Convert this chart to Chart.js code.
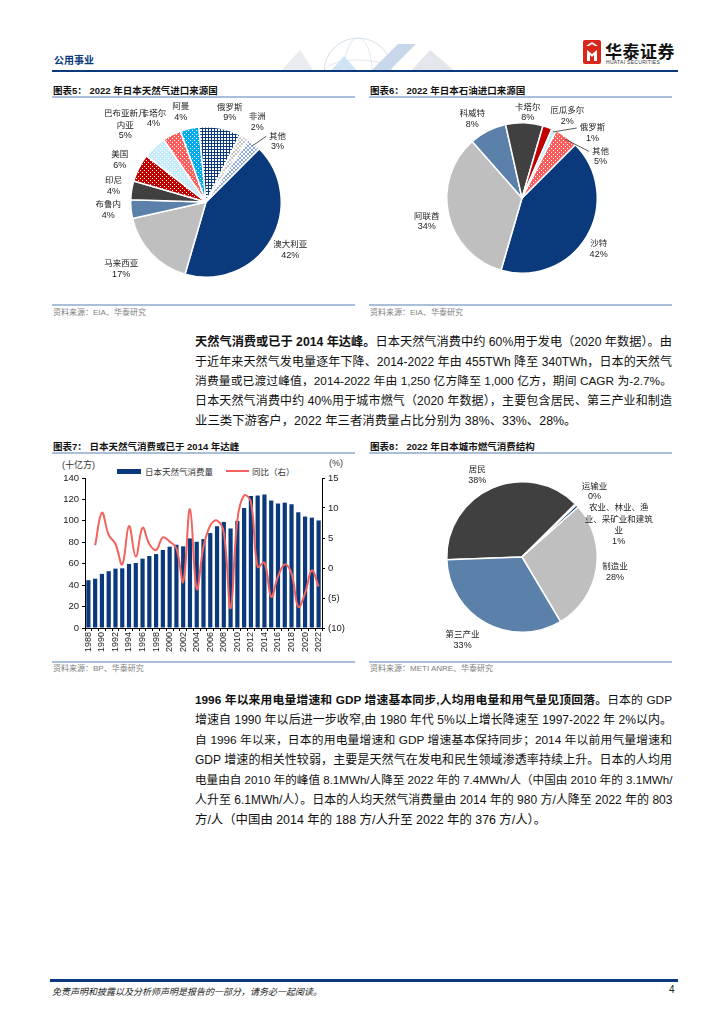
<!DOCTYPE html>
<html lang="zh">
<head>
<meta charset="utf-8">
<title>公用事业</title>
<script src="https://cdn.jsdelivr.net/npm/chart.js@4.4.0/dist/chart.umd.min.js"></script>
<style>
  html, body { margin: 0; padding: 0; background: #fff; }
  #page {
    position: relative; width: 724px; height: 1024px; overflow: hidden;
    font-family: "Liberation Sans", "Noto Sans CJK SC", sans-serif; color: #111;
  }
  .abs { position: absolute; }
  .ttl { font-size: 9.5px; font-weight: bold; white-space: nowrap; line-height: 12px; }
  .rule { height: 1.5px; background: #a9bfdc; }
  .src { font-size: 8px; color: #808080; white-space: nowrap; line-height: 10px; }
  .ln {
    position: absolute; left: 195px; width: 477px; height: 20px; line-height: 20px;
    font-size: 12.4px; white-space: nowrap; text-align: justify; text-align-last: justify;
  }
  .ln.last { text-align-last: left; }
  .ln b { font-weight: bold; }
  .unit { font-size: 9px; color: #333; white-space: nowrap; }
  .leg { font-size: 8.5px; color: #333; white-space: nowrap; }
</style>
</head>
<body>
<div id="page">

  <!-- header -->
  <div class="abs" style="left:54px;top:52px;font-size:10px;font-weight:bold;color:#0b3a7c;">公用事业</div>
  <svg class="abs" style="left:270px;top:34px" width="210" height="38">
    <circle cx="88" cy="38" r="34" fill="none" stroke="#d6dfea" stroke-width="1"/>
    <ellipse cx="88" cy="38" rx="34" ry="12" fill="none" stroke="#e1e8f0" stroke-width="1"/>
    <ellipse cx="88" cy="38" rx="14" ry="34" fill="none" stroke="#e1e8f0" stroke-width="1"/>
    <polygon points="10,38 30,16 44,38" fill="#e9edf2"/>
    <polygon points="100,38 128,10 146,10 118,38" fill="#c9d7ea"/>
    <polygon points="140,38 160,16 186,38" fill="#e3e7ec"/>
    <polygon points="60,38 74,22 88,38" fill="#cfe3f5"/>
  </svg>
  <div class="abs" style="left:583px;top:40px;width:18px;height:24px;background:#d9261c;border-radius:2px;"></div>
  <svg class="abs" style="left:583px;top:40px" width="18" height="24">
    <path d="M3 6 L9 2 L15 6 L12 6 L9 4 L6 6 Z" fill="#fff"/>
    <path d="M4 10 L9 14 L14 10 L14 21 L11 21 L11 15 L9 17 L7 15 L7 21 L4 21 Z" fill="#fff"/>
  </svg>
  <div class="abs" style="left:605px;top:38px;font-size:17px;font-weight:bold;letter-spacing:0.5px;color:#111;white-space:nowrap;">华泰证券</div>
  <div class="abs" style="left:606px;top:59px;font-size:5px;color:#333;letter-spacing:0.3px;white-space:nowrap;">HUATAI SECURITIES</div>
  <div class="abs" style="left:52px;top:70px;width:626px;height:2px;background:#0b3a7c;"></div>

  <!-- chart 5 -->
  <div class="abs ttl" style="left:53px;top:85px;">图表5：&nbsp;2022 年日本天然气进口来源国</div>
  <div class="abs rule" style="left:52px;top:96px;width:303px;"></div>
  <canvas id="lngChart" class="abs" style="left:52px;top:98px;" width="303" height="204"></canvas>
  <div class="abs rule" style="left:52px;top:304px;width:303px;"></div>
  <div class="abs src" style="left:53px;top:308px;">资料来源：EIA、华泰研究</div>

  <!-- chart 6 -->
  <div class="abs ttl" style="left:370px;top:85px;">图表6：&nbsp;2022 年日本石油进口来源国</div>
  <div class="abs rule" style="left:369px;top:96px;width:303px;"></div>
  <canvas id="oilChart" class="abs" style="left:369px;top:98px;" width="303" height="204"></canvas>
  <div class="abs rule" style="left:369px;top:304px;width:303px;"></div>
  <div class="abs src" style="left:370px;top:308px;">资料来源：EIA、华泰研究</div>

  <!-- paragraph 1 -->
  <div class="ln" style="top:332px;"><b>天然气消费或已于 2014 年达峰。</b>日本天然气消费中约 60%用于发电（2020 年数据）。由</div>
  <div class="ln" style="top:352px;">于近年来天然气发电量逐年下降、2014-2022 年由 455TWh 降至 340TWh，日本的天然气</div>
  <div class="ln" style="top:371px;">消费量或已渡过峰值，2014-2022 年由 1,250 亿方降至 1,000 亿方，期间 CAGR 为-2.7%。</div>
  <div class="ln" style="top:391px;">日本天然气消费中约 40%用于城市燃气（2020 年数据），主要包含居民、第三产业和制造</div>
  <div class="ln last" style="top:411px;">业三类下游客户，2022 年三者消费量占比分别为 38%、33%、28%。</div>

  <!-- chart 7 -->
  <div class="abs ttl" style="left:53px;top:441px;">图表7：&nbsp;日本天然气消费或已于 2014 年达峰</div>
  <div class="abs rule" style="left:52px;top:452px;width:303px;"></div>
  <div class="abs unit" style="left:62px;top:458px;">(十亿方)</div>
  <div class="abs unit" style="left:329px;top:458px;">(%)</div>
  <div class="abs" style="left:117px;top:469px;width:24px;height:5px;background:#0b3a7c;"></div>
  <div class="abs leg" style="left:145px;top:465px;">日本天然气消费量</div>
  <div class="abs" style="left:226px;top:470px;width:23px;height:2px;background:#f4625f;"></div>
  <div class="abs leg" style="left:252px;top:465px;">同比（右）</div>
  <canvas id="consumptionChart" class="abs" style="left:52px;top:455px;" width="303" height="205"></canvas>
  <div class="abs rule" style="left:52px;top:661px;width:303px;"></div>
  <div class="abs src" style="left:53px;top:664px;">资料来源：BP、华泰研究</div>

  <!-- chart 8 -->
  <div class="abs ttl" style="left:370px;top:441px;">图表8：&nbsp;2022 年日本城市燃气消费结构</div>
  <div class="abs rule" style="left:369px;top:452px;width:303px;"></div>
  <canvas id="cityGasChart" class="abs" style="left:369px;top:455px;" width="303" height="200"></canvas>
  <div class="abs rule" style="left:369px;top:661px;width:303px;"></div>
  <div class="abs src" style="left:370px;top:664px;">资料来源：METI ANRE、华泰研究</div>

  <!-- paragraph 2 -->
  <div class="ln" style="top:690px;"><b>1996 年以来用电量增速和 GDP 增速基本同步,人均用电量和用气量见顶回落。</b>日本的 GDP</div>
  <div class="ln" style="top:710px;">增速自 1990 年以后进一步收窄,由 1980 年代 5%以上增长降速至 1997-2022 年 2%以内。</div>
  <div class="ln" style="top:730px;">自 1996 年以来，日本的用电量增速和 GDP 增速基本保持同步；2014 年以前用气量增速和</div>
  <div class="ln" style="top:750px;">GDP 增速的相关性较弱，主要是天然气在发电和民生领域渗透率持续上升。日本的人均用</div>
  <div class="ln" style="top:770px;">电量由自 2010 年的峰值 8.1MWh/人降至 2022 年的 7.4MWh/人（中国由 2010 年的 3.1MWh/</div>
  <div class="ln" style="top:790px;">人升至 6.1MWh/人）。日本的人均天然气消费量由 2014 年的 980 方/人降至 2022 年的 803</div>
  <div class="ln last" style="top:810px;">方/人（中国由 2014 年的 188 方/人升至 2022 年的 376 方/人）。</div>

  <!-- footer -->
  <div class="abs" style="left:50px;top:979px;width:628px;height:2.5px;background:#0b3a7c;"></div>
  <div class="abs" style="left:52px;top:985px;font-size:9px;font-style:italic;color:#222;white-space:nowrap;">免责声明和披露以及分析师声明是报告的一部分，请务必一起阅读。</div>
  <div class="abs" style="left:669px;top:984px;font-size:10px;color:#222;">4</div>
</div>

<script>
// 图表5: 日本天然气进口来源国 (%)
const lngLabels = ["澳大利亚", "马来西亚", "布鲁内", "印尼", "美国", "巴布亚新几内亚", "卡塔尔", "阿曼", "俄罗斯", "非洲", "其他"];
const lngShares = [42, 17, 4, 4, 6, 5, 4, 4, 9, 2, 3];

// 图表6: 日本石油进口来源国 (%)
const oilLabels = ["沙特", "阿联酋", "科威特", "卡塔尔", "厄瓜多尔", "俄罗斯", "其他"];
const oilShares = [42, 34, 8, 8, 2, 1, 5];

// 图表7: 日本天然气消费量 (十亿方) 与同比 (%)
const years = ["1988", "1989", "1990", "1991", "1992", "1993", "1994", "1995", "1996", "1997",
  "1998", "1999", "2000", "2001", "2002", "2003", "2004", "2005", "2006", "2007",
  "2008", "2009", "2010", "2011", "2012", "2013", "2014", "2015", "2016", "2017",
  "2018", "2019", "2020", "2021", "2022"];
const consumption = [44.6, 46, 50.5, 53, 55.4, 55.7, 59.8, 60.7, 64.7, 67.2,
  69, 72.8, 75.9, 77.7, 76.2, 83.6, 80.5, 83, 88.6, 95,
  99, 92.9, 100, 112, 123.3, 123.6, 124.5, 119, 116.2, 117,
  115.5, 108, 104, 103, 100.4];
const yoy = [null, 3.8, 9.2, 5.5, 4, 0.6, 7, 1.9, 6.7, 4,
  3, 5.1, 4.4, 3.3, -2.3, 9.8, -3.5, 3.5, 7.1, 7.9,
  5.9, -6.7, 8, 12.1, 11, 0.2, 0.9, -4.8, -1.4, 0.6,
  -0.9, -6.5, -4.2, -0.4, -3.1];
const leftTicks = [0, 20, 40, 60, 80, 100, 120, 140];
const rightTicks = [-10, -5, 0, 5, 10, 15];

// 图表8: 日本城市燃气消费结构 (%)
const cityGasLabels = ["居民", "运输业", "农业、林业、渔业、采矿业和建筑业", "制造业", "第三产业"];
const cityGasShares = [38.1, 0.3, 0.6, 28, 33];

document.addEventListener("DOMContentLoaded", function () {
  const NAVY = "#0b3a7c";
  const GREY = "#bfbfbf";
  const STEEL = "#5b80aa";
  const DARK = "#404040";
  const RED = "#c00000";
  const LIGHT_BLUE = "#c9ecfb";
  const SALMON = "#ff5e5e";
  const CYAN = "#00aef0";
  const CJK = "'Noto Sans CJK SC', sans-serif";
  const LATIN = "'Liberation Sans', 'Noto Sans CJK SC', sans-serif";

  // small tiled fills for the hatched / dotted slices
  function makePattern(kind, bg, fg) {
    const tile = document.createElement("canvas");
    const size = kind === "grid" ? 3 : 4;
    tile.width = size;
    tile.height = size;
    const c = tile.getContext("2d");
    c.fillStyle = bg;
    c.fillRect(0, 0, size, size);
    c.fillStyle = fg;
    if (kind === "grid") {
      c.fillRect(0, 0, size, 1);
      c.fillRect(0, 0, 1, size);
    } else if (kind === "diag") {
      for (let i = 0; i < size; i++) {
        c.fillRect(i, i, 1, 1);
        c.fillRect(size - 1 - i, i, 1, 1);
      }
    } else {
      c.fillRect(0, 0, 1, 1);
      c.fillRect(2, 2, 1, 1);
    }
    return document.createElement("canvas").getContext("2d").createPattern(tile, "repeat");
  }

  // label placement per slice: [angle shift in degrees, distance from centre, leader line]
  function pieLabelPlugin(id, lines, place) {
    return {
      id: id,
      afterDatasetsDraw(chart) {
        const ctx = chart.ctx;
        const meta = chart.getDatasetMeta(0);
        const values = chart.data.datasets[0].data;
        ctx.save();
        meta.data.forEach((arc, i) => {
          const p = arc.getProps(["x", "y", "startAngle", "endAngle", "outerRadius"], true);
          const shift = place[i][0] * Math.PI / 180;
          const a = (p.startAngle + p.endAngle) / 2 + shift;
          const lx = p.x + place[i][1] * Math.cos(a);
          const ly = p.y + place[i][1] * Math.sin(a);
          const rows = lines[i].concat([Math.round(values[i]) + "%"]);
          const lh = 11.5;
          let y = ly - (rows.length - 1) * lh / 2;
          ctx.fillStyle = "#222";
          ctx.textAlign = "center";
          ctx.textBaseline = "middle";
          rows.forEach((row, k) => {
            ctx.font = k === rows.length - 1 ? "9px " + LATIN : "8.5px " + CJK;
            ctx.fillText(row, lx, y + k * lh);
          });
          if (place[i][2]) {
            const mid = (p.startAngle + p.endAngle) / 2;
            ctx.font = "8.5px " + CJK;
            const w = ctx.measureText(rows[0]).width;
            const firstY = ly - (rows.length - 1) * lh / 2;
            ctx.strokeStyle = "#333";
            ctx.lineWidth = 0.8;
            ctx.beginPath();
            ctx.moveTo(p.x + p.outerRadius * 0.97 * Math.cos(mid), p.y + p.outerRadius * 0.97 * Math.sin(mid));
            ctx.lineTo(lx - w / 2 - 3, firstY + 1);
            ctx.stroke();
          }
        });
        ctx.restore();
      },
    };
  }

  function pieChart(canvasId, labels, values, colors, rotation, padding, plugin) {
    const canvas = document.getElementById(canvasId);
    if (!canvas) return null;
    return new Chart(canvas.getContext("2d"), {
      type: "pie",
      data: {
        labels: labels,
        datasets: [
          {
            data: values,
            backgroundColor: colors,
            borderColor: "#fff",
            borderWidth: 1.5,
          },
        ],
      },
      options: {
        responsive: false,
        animation: false,
        rotation: rotation,
        layout: { padding: padding },
        plugins: {
          legend: { display: false },
          title: { display: false },
          tooltip: { enabled: false },
        },
      },
      plugins: [plugin],
    });
  }

  // Chart 5 - LNG import sources
  pieChart(
    "lngChart",
    lngLabels,
    lngShares,
    [
      NAVY, GREY, STEEL, DARK,
      makePattern("dots", RED, "#fff"),
      makePattern("dots", LIGHT_BLUE, "#fff"),
      makePattern("dots", SALMON, "#fff"),
      makePattern("dots", CYAN, "#fff"),
      makePattern("grid", "#fff", NAVY),
      makePattern("diag", "#fff", "#c8c8c8"),
      makePattern("diag", "#fff", "#8eaad6"),
    ],
    45,
    { left: 78, right: 73, top: 28, bottom: 24 },
    pieLabelPlugin(
      "lngLabels",
      [["澳大利亚"], ["马来西亚"], ["布鲁内"], ["印尼"], ["美国"], ["巴布亚新几", "内亚"], ["卡塔尔"], ["阿曼"], ["俄罗斯"], ["非洲"], ["其他"]],
      [[-1, 97], [5, 108], [1, 98], [1, 94], [-1, 96], [-3, 112], [-5, 99], [-3, 94], [4, 93], [2, 95], [10, 94, true]]
    )
  );

  // Chart 6 - crude oil import sources
  pieChart(
    "oilChart",
    oilLabels,
    oilShares,
    [NAVY, GREY, STEEL, DARK, RED, LIGHT_BLUE, makePattern("dots", SALMON, "#fff")],
    45,
    { left: 77, right: 74, top: 24, bottom: 28 },
    pieLabelPlugin(
      "oilLabels",
      [["沙特"], ["阿联酋"], ["科威特"], ["卡塔尔"], ["厄瓜多尔"], ["俄罗斯"], ["其他"]],
      [[3, 92], [-1, 98], [-5, 94], [2, 86], [9, 94], [22, 96, true], [26, 89, true]]
    )
  );

  // Chart 8 - city gas consumption structure
  pieChart(
    "cityGasChart",
    cityGasLabels,
    cityGasShares,
    [DARK, LIGHT_BLUE, NAVY, GREY, STEEL],
    -92,
    { left: 77, right: 74, top: 26, bottom: 22 },
    pieLabelPlugin(
      "cityGasLabels",
      [["居民"], ["运输业"], ["农业、林业、渔", "业、采矿业和建筑", "业"], ["制造业"], ["第三产业"]],
      [[-5, 94], [2, 98], [24, 102], [0, 94], [7, 102]]
    )
  );

  // Chart 7 - consumption bars + yoy line
  const consumptionCanvas = document.getElementById("consumptionChart");
  if (consumptionCanvas) {
    const tickFont = { family: "Liberation Sans", size: 9.5 };
    new Chart(consumptionCanvas.getContext("2d"), {
      type: "bar",
      data: {
        labels: years,
        datasets: [
          {
            type: "line",
            label: "同比（右）",
            data: yoy,
            yAxisID: "y1",
            borderColor: "#f4625f",
            borderWidth: 2,
            tension: 0.4,
            pointRadius: 0,
            order: 0,
          },
          {
            label: "日本天然气消费量",
            data: consumption,
            yAxisID: "y",
            backgroundColor: NAVY,
            barPercentage: 0.62,
            categoryPercentage: 1,
            order: 1,
          },
        ],
      },
      options: {
        responsive: false,
        animation: false,
        layout: { padding: { top: 23, left: 0, right: 0, bottom: 0 } },
        plugins: {
          legend: { display: false },
          title: { display: false },
          tooltip: { enabled: false },
        },
        scales: {
          x: {
            afterFit: (scale) => { scale.height = 32; },
            grid: { drawOnChartArea: false, drawTicks: true, tickLength: 3, color: "#000" },
            border: { display: true, color: "#000", width: 1 },
            ticks: {
              autoSkip: false,
              maxRotation: 90,
              minRotation: 90,
              padding: 1,
              color: "#222",
              font: { family: "Liberation Sans", size: 9 },
              callback: function (value, index) {
                return index % 2 === 0 ? years[index] : "";
              },
            },
          },
          y: {
            position: "left",
            min: leftTicks[0],
            max: leftTicks[leftTicks.length - 1],
            afterFit: (scale) => { scale.width = 33; },
            afterBuildTicks: (scale) => { scale.ticks = leftTicks.map((v) => ({ value: v })); },
            grid: { drawOnChartArea: false, drawTicks: true, tickLength: 3, color: "#000" },
            border: { display: true, color: "#000", width: 1 },
            ticks: { color: "#222", padding: 3, font: tickFont },
          },
          y1: {
            position: "right",
            min: rightTicks[0],
            max: rightTicks[rightTicks.length - 1],
            afterFit: (scale) => { scale.width = 33; },
            afterBuildTicks: (scale) => { scale.ticks = rightTicks.map((v) => ({ value: v })); },
            grid: { drawOnChartArea: false, drawTicks: true, tickLength: 3, color: "#000" },
            border: { display: true, color: "#000", width: 1 },
            ticks: {
              color: "#222",
              padding: 3,
              font: tickFont,
              callback: (v) => (v < 0 ? "(" + -v + ")" : v),
            },
          },
        },
      },
    });
  }

  // shrink any body line that is wider than its box
  document.querySelectorAll(".ln").forEach((line) => {
    const probe = document.createElement("span");
    probe.innerHTML = line.innerHTML;
    probe.style.cssText = "position:absolute;visibility:hidden;white-space:nowrap;font-size:" + getComputedStyle(line).fontSize;
    document.getElementById("page").appendChild(probe);
    let size = parseFloat(getComputedStyle(line).fontSize);
    while (probe.offsetWidth > line.clientWidth && size > 9) {
      size -= 0.2;
      probe.style.fontSize = size + "px";
    }
    line.style.fontSize = size + "px";
    probe.remove();
  });
});
</script>
</body>
</html>
